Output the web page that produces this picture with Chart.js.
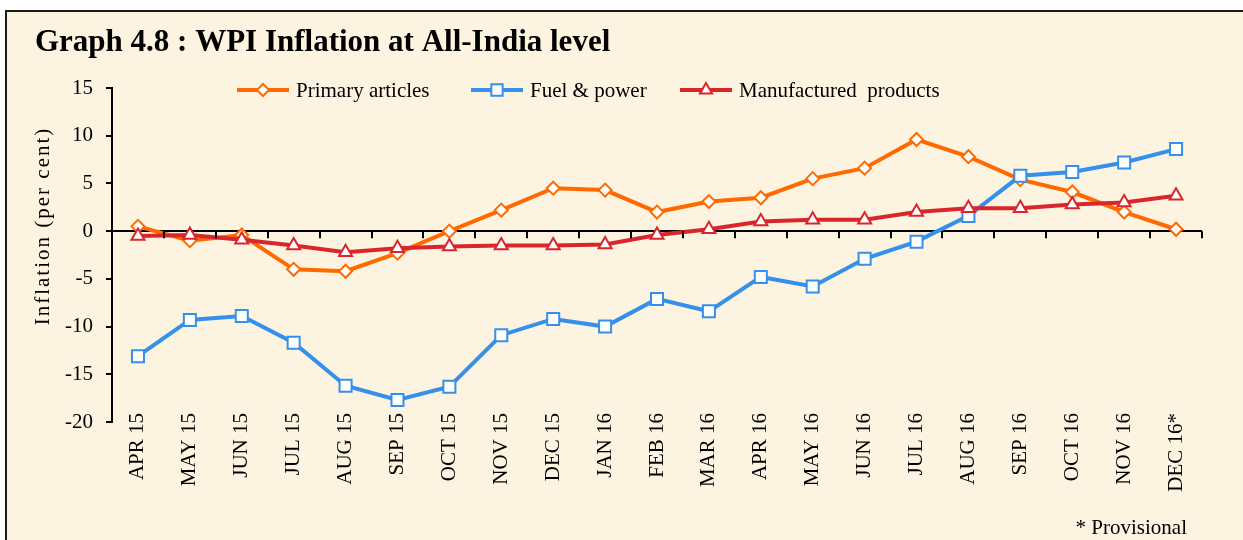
<!DOCTYPE html>
<html>
<head>
<meta charset="utf-8">
<title>WPI Inflation at All-India level</title>
<script src="https://cdn.jsdelivr.net/npm/chart.js@4.4.1/dist/chart.umd.min.js"></script>
<style>
  html, body { margin: 0; padding: 0; background: #ffffff; overflow: hidden; }
  #frame {
    position: absolute; left: 5px; top: 10px;
    width: 1240px; height: 532px;
    border-top: 2px solid #1a1a1a; border-left: 2px solid #1a1a1a;
    background: #fcf3e0;
  }
  #wpi-chart { display: block; }
</style>
</head>
<body>
<div id="frame">
  <canvas id="wpi-chart" width="1236" height="528"></canvas>
</div>
<script>
// data (per cent, y-o-y)
const months = ['APR 15', 'MAY 15', 'JUN 15', 'JUL 15', 'AUG 15', 'SEP 15', 'OCT 15',
  'NOV 15', 'DEC 15', 'JAN 16', 'FEB 16', 'MAR 16', 'APR 16', 'MAY 16', 'JUN 16',
  'JUL 16', 'AUG 16', 'SEP 16', 'OCT 16', 'NOV 16', 'DEC 16*'];
const primaryArticles = [0.5, -1.0, -0.4, -4.0, -4.2, -2.3, 0.0, 2.2, 4.5, 4.3, 2.0,
  3.1, 3.5, 5.5, 6.6, 9.6, 7.8, 5.4, 4.1, 2.0, 0.2];
const fuelPower = [-13.1, -9.3, -8.9, -11.7, -16.2, -17.7, -16.3, -10.9, -9.2, -10.0,
  -7.1, -8.4, -4.8, -5.8, -2.9, -1.1, 1.6, 5.8, 6.2, 7.2, 8.6];
const manufactured = [-0.5, -0.4, -0.9, -1.5, -2.2, -1.8, -1.6, -1.5, -1.5, -1.4, -0.4,
  0.2, 1.0, 1.2, 1.2, 2.0, 2.4, 2.4, 2.8, 3.0, 3.7];
const yTicks = [-20, -15, -10, -5, 0, 5, 10, 15];

const ORANGE = '#ff6a00';
const BLUE = '#3590eb';
const RED = '#d8262c';
const SERIF = '"Liberation Serif", "Times New Roman", serif';

Chart.defaults.font.family = SERIF;
Chart.defaults.color = '#000';

// legend drawn as line + marker, axis title with spacing, zero-line ticks, footnote
const extrasPlugin = {
  id: 'extras',
  afterDraw(chart) {
    const ctx = chart.ctx;
    const area = chart.chartArea;
    const x = chart.scales.x;
    const y = chart.scales.y;
    const zeroY = y.getPixelForValue(0);

    ctx.save();
    // small tick marks below the zero line at category boundaries
    ctx.strokeStyle = '#000';
    ctx.lineWidth = 2;
    const half = (x.getPixelForValue(1) - x.getPixelForValue(0)) / 2;
    ctx.beginPath();
    for (let i = 0; i <= months.length; i++) {
      const px = Math.round(x.getPixelForValue(i) - half);
      ctx.moveTo(px, zeroY);
      ctx.lineTo(px, zeroY + 7);
    }
    ctx.stroke();

    // y axis title
    ctx.save();
    ctx.translate(36, 215);
    ctx.rotate(-Math.PI / 2);
    ctx.font = '21px ' + SERIF;
    ctx.letterSpacing = '2px';
    ctx.textAlign = 'center';
    ctx.textBaseline = 'middle';
    ctx.fillStyle = '#000';
    ctx.fillText('Inflation (per cent)', 1, 0);
    ctx.restore();

    // legend
    const offsets = [125, 359, 568];
    const ly = area.top + 2;
    chart.data.datasets.forEach((ds, i) => {
      const lx = area.left + offsets[i];
      ctx.strokeStyle = ds.borderColor;
      ctx.lineWidth = 4;
      ctx.beginPath();
      ctx.moveTo(lx, ly);
      ctx.lineTo(lx + 52, ly);
      ctx.stroke();
      ctx.fillStyle = '#fff';
      ctx.strokeStyle = ds.borderColor;
      ctx.lineWidth = 2;
      Chart.helpers.drawPoint(ctx, {
        pointStyle: ds.pointStyle,
        radius: ds.pointRadius - 0.5,
        borderWidth: 2,
        rotation: 0
      }, lx + 26, ly);
      ctx.fillStyle = '#000';
      ctx.font = '21px ' + SERIF;
      ctx.textAlign = 'left';
      ctx.textBaseline = 'middle';
      ctx.fillText(ds.label, lx + 59, ly + 1);
    });

    // footnote
    ctx.font = '21px ' + SERIF;
    ctx.textAlign = 'right';
    ctx.textBaseline = 'middle';
    ctx.fillStyle = '#000';
    ctx.fillText('* Provisional', 1180, 516);
    ctx.restore();
  }
};

new Chart(document.getElementById('wpi-chart'), {
  type: 'line',
  data: {
    labels: months,
    datasets: [
      {
        label: 'Primary articles',
        data: primaryArticles,
        borderColor: ORANGE,
        pointBorderColor: ORANGE,
        pointBackgroundColor: '#fff',
        pointStyle: 'rectRot',
        pointRadius: 6.5,
        order: 3
      },
      {
        label: 'Fuel & power',
        data: fuelPower,
        borderColor: BLUE,
        pointBorderColor: BLUE,
        pointBackgroundColor: '#fff',
        pointStyle: 'rect',
        pointRadius: 8.5,
        order: 2
      },
      {
        label: 'Manufactured  products',
        data: manufactured,
        borderColor: RED,
        pointBorderColor: RED,
        pointBackgroundColor: '#fff',
        pointStyle: 'triangle',
        pointRadius: 7.5,
        order: 1
      }
    ]
  },
  options: {
    responsive: false,
    animation: false,
    layout: { padding: { left: 28, right: 41, top: 0, bottom: 0 } },
    elements: {
      line: { borderWidth: 4, tension: 0 },
      point: { borderWidth: 2, hoverRadius: 8 }
    },
    plugins: {
      legend: { display: false },
      tooltip: { enabled: false },
      title: {
        display: true,
        align: 'start',
        text: 'Graph 4.8 : WPI Inflation at All-India level',
        color: '#000',
        font: { size: 31, weight: 'bold', family: SERIF },
        padding: { top: 12.7, bottom: 26.1 }
      }
    },
    scales: {
      x: {
        offset: true,
        grid: { display: false, drawTicks: false },
        border: { display: false },
        ticks: {
          minRotation: 90,
          maxRotation: 90,
          padding: -9,
          color: '#000',
          font: { size: 21 }
        },
        afterFit: (s) => {
          s.height = 118;
          // labels start a little above the axis bottom, so don't clip them to the scale box
          s._computeLabelArea = () => undefined;
        }
      },
      y: {
        min: -20,
        max: 15,
        afterBuildTicks: (s) => { s.ticks = yTicks.map(v => ({ value: v })); },
        grid: {
          drawOnChartArea: true,
          color: (c) => (c.tick && c.tick.value === 0 ? '#000' : 'rgba(0,0,0,0)'),
          lineWidth: 2,
          tickColor: '#000',
          tickLength: 6,
          tickWidth: 2
        },
        border: { display: true, color: '#000', width: 2 },
        ticks: {
          padding: 13,
          color: '#000',
          font: { size: 21 }
        },
        afterFit: (s) => { s.width = 77; }
      }
    }
  },
  plugins: [extrasPlugin]
});
</script>
</body>
</html>
